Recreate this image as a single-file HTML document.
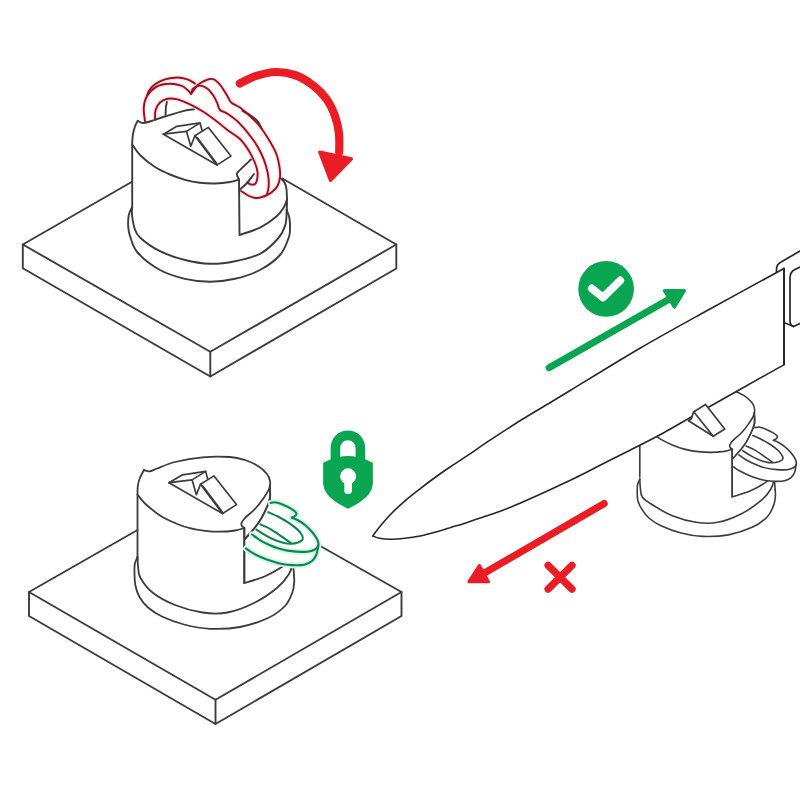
<!DOCTYPE html>
<html><head><meta charset="utf-8"><title>Knife sharpener instructions</title>
<style>html,body{margin:0;padding:0;background:#fff}svg{display:block}</style></head>
<body><svg width="800" height="800" viewBox="0 0 800 800">
<rect width="800" height="800" fill="#ffffff"/>
<path d="M132.0,181.8L22.8,244.5L210.3,351.8L396.3,244.5L282.0,178.3" fill="none" stroke="#3c3c3c" stroke-width="1.9" stroke-linecap="round" stroke-linejoin="round" />
<path d="M22.8,244.5L22.8,268.3L210.3,376.5L396.3,268.5L396.3,244.5" fill="none" stroke="#3c3c3c" stroke-width="1.9" stroke-linecap="round" stroke-linejoin="round" />
<path d="M210.3,351.8L210.3,376.5" fill="none" stroke="#3c3c3c" stroke-width="1.9" stroke-linecap="round" stroke-linejoin="round" />
<path d="M147.2,95.0C147.5,94.2 148.3,92.0 149.2,90.5C150.1,89.0 151.3,87.5 152.5,86.3C153.7,85.1 154.4,84.4 156.5,83.3C158.6,82.2 161.5,80.4 165.0,79.4C168.5,78.4 173.8,77.5 177.5,77.5C181.2,77.5 184.6,78.4 187.5,79.4C190.4,80.4 193.8,82.8 195.0,83.5" fill="none" stroke="#ffe3e6" stroke-width="4.6" stroke-linecap="round"/>
<path d="M197.0,85.6C197.9,85.0 200.3,83.0 202.5,81.9C204.7,80.8 207.9,79.3 210.0,79.0C212.1,78.7 213.1,78.8 215.0,80.0C216.9,81.2 219.2,83.5 221.2,86.2C223.3,89.0 225.8,93.5 227.5,96.2C229.2,99.0 229.2,100.6 231.2,102.5C233.3,104.4 237.1,105.4 240.0,107.5C242.9,109.6 245.6,112.1 248.8,115.0C251.9,117.9 255.6,121.2 258.8,125.0C261.9,128.8 264.6,132.8 267.5,137.5C270.4,142.2 274.0,148.1 276.0,153.0C278.0,157.9 278.8,163.0 279.5,167.0C280.2,171.0 280.3,173.8 280.0,177.0C279.7,180.2 278.8,183.5 277.5,186.0C276.2,188.5 274.1,190.3 272.0,192.0C269.9,193.7 267.5,195.0 265.0,196.0C262.5,197.0 259.7,198.0 257.0,198.0C254.3,198.0 251.7,197.2 249.0,196.0C246.3,194.8 242.3,191.8 241.0,191.0" fill="none" stroke="#ffe3e6" stroke-width="4.6" stroke-linecap="round"/>
<path d="M145.0,121.2C144.8,119.0 143.4,111.7 143.8,107.5C144.1,103.3 144.8,99.7 146.9,96.2C149.0,92.8 152.6,89.0 156.2,86.9C159.9,84.8 164.6,84.0 168.8,83.8C172.9,83.5 178.1,84.6 181.2,85.6C184.4,86.6 185.8,88.6 187.5,90.0C189.2,91.4 190.6,93.1 191.2,93.8" fill="none" stroke="#ffe3e6" stroke-width="4.6" stroke-linecap="round"/>
<path d="M191.2,93.8C191.5,92.9 191.5,90.1 193.0,88.8C194.5,87.4 197.6,85.6 200.0,85.6C202.4,85.6 205.2,87.0 207.5,88.8C209.8,90.5 212.1,93.8 213.8,96.2C215.4,98.8 216.5,101.5 217.5,103.8C218.5,106.0 218.3,108.3 220.0,110.0C221.7,111.7 224.2,111.5 227.5,113.8C230.8,116.0 235.6,119.2 240.0,123.8C244.4,128.3 250.5,136.1 254.0,141.0C257.5,145.9 259.0,148.8 261.0,153.0C263.0,157.2 264.8,161.8 266.0,166.0C267.2,170.2 268.1,174.3 268.5,178.0C268.9,181.7 268.8,185.3 268.5,188.0C268.2,190.7 267.2,193.0 267.0,194.0" fill="none" stroke="#ffe3e6" stroke-width="4.6" stroke-linecap="round"/>
<path d="M155.0,119.4C155.1,117.8 154.8,112.8 155.6,110.0C156.4,107.2 158.0,104.4 160.0,102.5C162.0,100.6 164.6,99.3 167.5,98.8C170.4,98.2 173.8,98.5 177.5,99.4C181.2,100.3 185.8,102.4 190.0,104.4C194.2,106.4 198.3,108.7 202.5,111.2C206.7,113.8 210.8,116.9 215.0,120.0C219.2,123.1 223.3,126.8 227.5,130.0C231.7,133.2 236.4,135.5 240.0,139.0C243.6,142.5 246.5,147.0 249.0,151.0C251.5,155.0 253.6,159.5 255.0,163.0C256.4,166.5 257.2,169.2 257.5,172.0C257.8,174.8 257.4,178.0 257.0,180.0C256.6,182.0 256.0,183.2 255.0,184.0C254.0,184.8 252.2,184.7 251.0,184.5C249.8,184.3 248.5,183.2 248.0,183.0" fill="none" stroke="#ffe3e6" stroke-width="4.6" stroke-linecap="round"/>
<path d="M137.8,120.8C138.7,121.2 140.6,123.2 143.5,123.0C146.4,122.8 151.4,120.9 155.0,119.8C158.6,118.7 160.2,118.0 165.0,116.5C169.8,115.0 179.0,112.0 183.8,110.8C188.5,109.6 192.1,109.6 193.8,109.4" fill="none" stroke="#3c3c3c" stroke-width="1.9" stroke-linecap="round" stroke-linejoin="round" />
<path d="M242.5,111.0C243.8,111.7 247.5,113.3 250.0,115.0C252.5,116.7 255.5,118.7 257.5,121.0C259.5,123.3 261.2,127.7 262.0,129.0" fill="none" stroke="#3c3c3c" stroke-width="1.9" stroke-linecap="round" stroke-linejoin="round" />
<path d="M137.8,120.8C137.2,121.8 135.5,124.8 134.8,127.0C134.0,129.2 133.4,131.7 133.0,134.0C132.6,136.3 132.4,138.7 132.3,141.0C132.2,143.3 132.2,146.8 132.2,148.0L132.2,207" fill="none" stroke="#3c3c3c" stroke-width="1.9" stroke-linecap="round" stroke-linejoin="round" />
<path d="M132.2,144.5C133.5,146.2 136.2,151.2 140.0,155.0C143.8,158.8 150.0,163.8 155.0,167.0C160.0,170.2 165.0,172.4 170.0,174.5C175.0,176.6 180.0,178.4 185.0,179.8C190.0,181.1 195.0,182.1 200.0,182.8C205.0,183.4 210.0,183.6 215.0,183.5C220.0,183.4 226.0,182.7 230.0,182.0C234.0,181.3 237.5,179.9 239.0,179.5" fill="none" stroke="#3c3c3c" stroke-width="1.9" stroke-linecap="round" stroke-linejoin="round" />
<path d="M239.0,179.5C238.7,178.8 237.2,176.2 237.0,175.0C236.8,173.8 235.7,174.6 238.0,172.0C240.3,169.4 248.8,161.6 251.0,159.5" fill="none" stroke="#3c3c3c" stroke-width="1.9" stroke-linecap="round" stroke-linejoin="round" />
<path d="M240.5,189.0C241.6,188.0 244.8,185.5 247.0,183.0C249.2,180.5 252.8,175.5 254.0,174.0" fill="none" stroke="#3c3c3c" stroke-width="1.9" stroke-linecap="round" stroke-linejoin="round" />
<path d="M239,179.5L239.5,235C243.0,233.7 254.2,230.6 260.5,227.4C266.8,224.2 273.1,219.4 277.0,216.0C280.9,212.6 282.3,209.8 284.0,207.0C285.7,204.2 286.5,200.8 287.0,199.5" fill="none" stroke="#3c3c3c" stroke-width="1.9" stroke-linecap="round" stroke-linejoin="round" />
<path d="M281.0,178.5C281.6,179.2 283.6,180.8 284.5,182.5C285.4,184.2 286.0,185.7 286.4,188.5C286.8,191.3 286.9,195.9 287.0,199.5C287.1,203.1 286.8,208.2 286.7,210.0" fill="none" stroke="#3c3c3c" stroke-width="1.9" stroke-linecap="round" stroke-linejoin="round" />
<path d="M132.2,207.0C131.6,208.2 129.6,211.3 128.9,214.5C128.2,217.7 128.0,222.4 128.2,226.0C128.4,229.6 128.4,231.6 130.0,236.0C131.6,240.4 132.5,246.8 137.5,252.5C142.5,258.2 152.1,265.6 160.0,270.0C167.9,274.4 176.7,276.8 185.0,278.8C193.3,280.7 201.7,281.8 210.0,281.8C218.3,281.8 226.7,280.7 235.0,278.8C243.3,276.8 252.5,274.0 260.0,270.0C267.5,266.0 275.2,260.4 280.0,255.0C284.8,249.6 287.1,242.0 288.8,237.5C290.4,233.0 289.9,231.2 290.0,228.0C290.1,224.8 289.9,221.0 289.4,218.0C288.8,215.0 287.1,211.3 286.7,210.0" fill="none" stroke="#3c3c3c" stroke-width="1.9" stroke-linecap="round" stroke-linejoin="round" />
<path d="M132.2,207.0C132.2,208.3 131.6,211.5 132.0,215.0C132.4,218.5 133.2,224.2 134.5,228.0C135.8,231.8 135.8,233.6 140.0,237.5C144.2,241.4 152.5,247.5 160.0,251.2C167.5,255.0 176.7,257.9 185.0,260.0C193.3,262.1 201.7,263.5 210.0,263.8C218.3,264.0 226.7,262.9 235.0,261.2C243.3,259.6 252.8,257.5 260.0,253.8C267.2,250.0 273.8,243.3 278.0,238.5C282.2,233.7 283.9,229.8 285.3,225.0C286.8,220.2 286.5,212.5 286.7,210.0" fill="none" stroke="#3c3c3c" stroke-width="1.9" stroke-linecap="round" stroke-linejoin="round" />
<path d="M163.4,134.2L176.9,126.3L200.0,122.9L202.0,130.3" fill="none" stroke="#3c3c3c" stroke-width="1.7" stroke-linecap="round" stroke-linejoin="round" />
<path d="M163.4,134.2L186.5,131.4L200.0,122.9" fill="none" stroke="#3c3c3c" stroke-width="1.7" stroke-linecap="round" stroke-linejoin="round" />
<path d="M186.5,131.4L190.8,146.2L194.9,135.7" fill="none" stroke="#3c3c3c" stroke-width="1.7" stroke-linecap="round" stroke-linejoin="round" />
<path d="M194.9,135.7L208.4,127.4L230.9,156.1L216.9,165.1L194.9,135.7" fill="none" stroke="#3c3c3c" stroke-width="1.7" stroke-linecap="round" stroke-linejoin="round" />
<path d="M163.4,134.2L216.9,165.1" fill="none" stroke="#3c3c3c" stroke-width="1.7" stroke-linecap="round" stroke-linejoin="round" />
<path d="M197.2,137.6L216.7,163.4" fill="none" stroke="#3c3c3c" stroke-width="1.7" stroke-linecap="round" stroke-linejoin="round" />
<path d="M147.2,95.0C147.5,94.2 148.3,92.0 149.2,90.5C150.1,89.0 151.3,87.5 152.5,86.3C153.7,85.1 154.4,84.4 156.5,83.3C158.6,82.2 161.5,80.4 165.0,79.4C168.5,78.4 173.8,77.5 177.5,77.5C181.2,77.5 184.6,78.4 187.5,79.4C190.4,80.4 193.8,82.8 195.0,83.5" fill="none" stroke="#9a101c" stroke-width="1.9" stroke-linecap="round" stroke-linejoin="round" />
<path d="M197.0,85.6C197.9,85.0 200.3,83.0 202.5,81.9C204.7,80.8 207.9,79.3 210.0,79.0C212.1,78.7 213.1,78.8 215.0,80.0C216.9,81.2 219.2,83.5 221.2,86.2C223.3,89.0 225.8,93.5 227.5,96.2C229.2,99.0 229.2,100.6 231.2,102.5C233.3,104.4 237.1,105.4 240.0,107.5C242.9,109.6 245.6,112.1 248.8,115.0C251.9,117.9 255.6,121.2 258.8,125.0C261.9,128.8 264.6,132.8 267.5,137.5C270.4,142.2 274.0,148.1 276.0,153.0C278.0,157.9 278.8,163.0 279.5,167.0C280.2,171.0 280.3,173.8 280.0,177.0C279.7,180.2 278.8,183.5 277.5,186.0C276.2,188.5 274.1,190.3 272.0,192.0C269.9,193.7 267.5,195.0 265.0,196.0C262.5,197.0 259.7,198.0 257.0,198.0C254.3,198.0 251.7,197.2 249.0,196.0C246.3,194.8 242.3,191.8 241.0,191.0" fill="none" stroke="#9a101c" stroke-width="1.9" stroke-linecap="round" stroke-linejoin="round" />
<path d="M191.2,93.8L197.0,85.6" fill="none" stroke="#9a101c" stroke-width="1.9" stroke-linecap="round" stroke-linejoin="round" />
<path d="M145.0,121.2C144.8,119.0 143.4,111.7 143.8,107.5C144.1,103.3 144.8,99.7 146.9,96.2C149.0,92.8 152.6,89.0 156.2,86.9C159.9,84.8 164.6,84.0 168.8,83.8C172.9,83.5 178.1,84.6 181.2,85.6C184.4,86.6 185.8,88.6 187.5,90.0C189.2,91.4 190.6,93.1 191.2,93.8" fill="none" stroke="#9a101c" stroke-width="1.9" stroke-linecap="round" stroke-linejoin="round" />
<path d="M191.2,93.8C191.5,92.9 191.5,90.1 193.0,88.8C194.5,87.4 197.6,85.6 200.0,85.6C202.4,85.6 205.2,87.0 207.5,88.8C209.8,90.5 212.1,93.8 213.8,96.2C215.4,98.8 216.5,101.5 217.5,103.8C218.5,106.0 218.3,108.3 220.0,110.0C221.7,111.7 224.2,111.5 227.5,113.8C230.8,116.0 235.6,119.2 240.0,123.8C244.4,128.3 250.5,136.1 254.0,141.0C257.5,145.9 259.0,148.8 261.0,153.0C263.0,157.2 264.8,161.8 266.0,166.0C267.2,170.2 268.1,174.3 268.5,178.0C268.9,181.7 268.8,185.3 268.5,188.0C268.2,190.7 267.2,193.0 267.0,194.0" fill="none" stroke="#9a101c" stroke-width="1.9" stroke-linecap="round" stroke-linejoin="round" />
<path d="M155.0,119.4C155.1,117.8 154.8,112.8 155.6,110.0C156.4,107.2 158.0,104.4 160.0,102.5C162.0,100.6 164.6,99.3 167.5,98.8C170.4,98.2 173.8,98.5 177.5,99.4C181.2,100.3 185.8,102.4 190.0,104.4C194.2,106.4 198.3,108.7 202.5,111.2C206.7,113.8 210.8,116.9 215.0,120.0C219.2,123.1 223.3,126.8 227.5,130.0C231.7,133.2 236.4,135.5 240.0,139.0C243.6,142.5 246.5,147.0 249.0,151.0C251.5,155.0 253.6,159.5 255.0,163.0C256.4,166.5 257.2,169.2 257.5,172.0C257.8,174.8 257.4,178.0 257.0,180.0C256.6,182.0 256.0,183.2 255.0,184.0C254.0,184.8 252.2,184.7 251.0,184.5C249.8,184.3 248.5,183.2 248.0,183.0" fill="none" stroke="#9a101c" stroke-width="1.9" stroke-linecap="round" stroke-linejoin="round" />
<path d="M166.9,101.9C166.7,102.9 166.0,105.8 165.8,108.0C165.6,110.2 165.6,113.8 165.6,115.0" fill="none" stroke="#3c3c3c" stroke-width="1.9" stroke-linecap="round" stroke-linejoin="round" />
<path d="M239.8,83.5C242.5,82.2 250.3,77.8 256.2,75.9C262.2,74.0 269.1,72.2 275.5,72.0C281.9,71.8 288.6,72.9 294.8,75.0C300.9,77.1 307.0,80.8 312.2,84.7C317.5,88.7 322.5,93.5 326.2,98.7C330.0,103.9 332.9,110.2 335.0,116.0C337.1,121.8 338.3,127.5 339.0,133.5C339.7,139.5 339.2,148.9 339.2,152.0" fill="none" stroke="#ea1c24" stroke-width="8.2" stroke-linecap="round" stroke-linejoin="round" />
<path d="M319.8,152.2L351.4,158.8L330.5,180.2Z" fill="#ea1c24" stroke="#ea1c24" stroke-width="3.4" stroke-linecap="round" stroke-linejoin="round" />
<path d="M137.5,530.0L29.0,592.0L215.5,699.8L401.5,592.0L318.5,545.0" fill="none" stroke="#3c3c3c" stroke-width="1.9" stroke-linecap="round" stroke-linejoin="round" />
<path d="M29.0,592.0L29.0,616.0L215.5,724.0L401.5,616.0L401.5,592.0" fill="none" stroke="#3c3c3c" stroke-width="1.9" stroke-linecap="round" stroke-linejoin="round" />
<path d="M215.5,699.8L215.5,724.0" fill="none" stroke="#3c3c3c" stroke-width="1.9" stroke-linecap="round" stroke-linejoin="round" />
<path d="M144.0,470.0C144.9,470.2 147.3,471.6 149.5,471.3C151.7,471.1 152.8,470.1 157.0,468.5C161.2,466.9 167.4,463.9 175.0,462.0C182.6,460.1 193.3,458.1 202.5,457.3C211.7,456.5 222.9,456.6 230.0,457.0C237.1,457.4 240.3,458.5 245.0,460.0C249.7,461.5 254.3,463.7 258.0,466.0C261.7,468.3 265.0,471.5 267.0,474.0C269.0,476.5 269.6,478.7 270.0,481.0C270.4,483.3 270.7,485.0 269.5,488.0C268.3,491.0 265.4,495.5 263.0,499.0C260.6,502.5 258.0,505.8 255.0,509.0C252.0,512.2 247.2,515.7 245.0,518.0C242.8,520.3 242.0,521.7 241.5,523.0C241.0,524.3 241.5,525.2 242.0,526.0C242.5,526.8 243.9,527.7 244.3,528.0" fill="none" stroke="#3c3c3c" stroke-width="1.8" stroke-linecap="round" stroke-linejoin="round" />
<path d="M269.8,486.0C269.8,488.0 270.5,494.5 270.0,498.0C269.5,501.5 268.5,503.5 267.0,507.0C265.5,510.5 263.2,515.3 261.2,518.8C259.3,522.2 257.1,524.9 255.1,527.5C253.1,530.1 250.7,532.6 249.0,534.5C247.3,536.4 245.7,538.2 245.0,539.0" fill="none" stroke="#3c3c3c" stroke-width="1.8" stroke-linecap="round" stroke-linejoin="round" />
<path d="M144.0,470.0C143.2,471.5 140.6,476.2 139.5,479.0C138.4,481.8 138.0,484.3 137.7,487.0C137.4,489.7 137.5,493.7 137.5,495.0L137.5,560.0" fill="none" stroke="#3c3c3c" stroke-width="1.8" stroke-linecap="round" stroke-linejoin="round" />
<path d="M137.5,494.5C138.8,496.0 141.2,500.0 145.0,503.5C148.8,507.0 155.0,512.2 160.0,515.5C165.0,518.8 170.0,520.9 175.0,523.0C180.0,525.1 185.0,527.0 190.0,528.2C195.0,529.5 200.0,530.2 205.0,530.8C210.0,531.4 215.0,531.8 220.0,531.7C225.0,531.7 230.9,531.1 235.0,530.5C239.1,529.9 242.8,528.4 244.3,528.0" fill="none" stroke="#3c3c3c" stroke-width="1.8" stroke-linecap="round" stroke-linejoin="round" />
<path d="M244.3,528.0L244.3,583.0" fill="none" stroke="#3c3c3c" stroke-width="1.8" stroke-linecap="round" stroke-linejoin="round" />
<path d="M244.3,583.0C247.8,581.9 258.2,579.2 265.0,576.2C271.8,573.2 280.4,568.0 285.0,565.0C289.6,562.0 291.2,559.2 292.5,558.0" fill="none" stroke="#3c3c3c" stroke-width="1.8" stroke-linecap="round" stroke-linejoin="round" />
<path d="M293.0,562.0L294.0,575.0" fill="none" stroke="#3c3c3c" stroke-width="1.8" stroke-linecap="round" stroke-linejoin="round" />
<path d="M137.5,557.0C137.1,558.2 135.3,561.3 134.8,564.0C134.3,566.7 134.4,569.5 134.5,573.0C134.6,576.5 134.5,581.0 135.3,585.0C136.1,589.0 137.4,593.2 139.5,597.0C141.6,600.8 144.2,604.2 148.0,607.5C151.8,610.8 156.0,613.7 162.0,616.5C168.0,619.3 176.0,622.5 184.0,624.5C192.0,626.5 200.7,628.3 210.0,628.8C219.3,629.2 230.3,628.8 240.0,627.0C249.7,625.2 260.5,621.5 268.0,618.0C275.5,614.5 280.9,610.3 285.0,606.0C289.1,601.7 291.0,596.0 292.5,592.0C294.0,588.0 294.0,584.8 294.2,582.0C294.5,579.2 294.0,576.2 294.0,575.0" fill="none" stroke="#3c3c3c" stroke-width="1.8" stroke-linecap="round" stroke-linejoin="round" />
<path d="M137.5,557.0C137.6,558.8 137.7,564.5 138.2,568.0C138.7,571.5 138.1,573.9 140.5,578.0C142.9,582.1 146.8,588.0 152.5,592.5C158.2,597.0 166.7,601.7 175.0,605.0C183.3,608.3 193.8,611.2 202.5,612.5C211.2,613.8 218.8,614.2 227.5,612.5C236.2,610.8 246.7,606.7 255.0,602.5C263.3,598.3 271.8,592.2 277.5,587.5C283.2,582.8 286.4,578.2 289.0,574.0C291.6,569.8 292.3,564.0 293.0,562.0" fill="none" stroke="#3c3c3c" stroke-width="1.8" stroke-linecap="round" stroke-linejoin="round" />
<path d="M169.0,482.7L182.5,474.8L205.6,471.4L207.6,478.8" fill="none" stroke="#3c3c3c" stroke-width="1.7" stroke-linecap="round" stroke-linejoin="round" />
<path d="M169.0,482.7L192.1,479.9L205.6,471.4" fill="none" stroke="#3c3c3c" stroke-width="1.7" stroke-linecap="round" stroke-linejoin="round" />
<path d="M192.1,479.9L196.4,494.7L200.5,484.2" fill="none" stroke="#3c3c3c" stroke-width="1.7" stroke-linecap="round" stroke-linejoin="round" />
<path d="M200.5,484.2L214.0,475.9L236.5,504.6L222.5,513.6L200.5,484.2" fill="none" stroke="#3c3c3c" stroke-width="1.7" stroke-linecap="round" stroke-linejoin="round" />
<path d="M169.0,482.7L222.5,513.6" fill="none" stroke="#3c3c3c" stroke-width="1.7" stroke-linecap="round" stroke-linejoin="round" />
<path d="M202.8,486.1L222.3,511.9" fill="none" stroke="#3c3c3c" stroke-width="1.7" stroke-linecap="round" stroke-linejoin="round" />
<path d="M270.6,503.0L275.0,502.3L282.5,504.5L291.2,508.8L296.2,512.8L295.5,515.6L292.0,517.7L297.5,520.0L305.0,525.0L312.5,532.5L317.5,540.0L318.3,545.5L318.3,545.5L316.2,555.0L312.0,561.0L305.0,564.4L296.2,565.2L287.5,564.7L278.8,563.2L270.0,560.6L261.2,557.2L252.5,552.9L246.0,548.5L245.0,539.0L249.0,534.5L255.1,527.5L261.2,518.8L266.5,508.0L270.6,503.0Z" fill="#fff" stroke="none" stroke-width="1.9" stroke-linecap="round" stroke-linejoin="round" />
<path d="M269.8,486.0C269.8,488.0 270.5,494.5 270.0,498.0C269.5,501.5 268.5,503.5 267.0,507.0C265.5,510.5 263.2,515.3 261.2,518.8C259.3,522.2 257.1,524.9 255.1,527.5C253.1,530.1 250.7,532.6 249.0,534.5C247.3,536.4 245.7,538.2 245.0,539.0" fill="none" stroke="#3c3c3c" stroke-width="1.9" stroke-linecap="round" stroke-linejoin="round" />
<path d="M244.3,528.0L244.3,583.0" fill="none" stroke="#3c3c3c" stroke-width="1.9" stroke-linecap="round" stroke-linejoin="round" />
<path d="M270.6,503.0C271.3,502.9 273.0,502.1 275.0,502.3C277.0,502.6 279.8,503.4 282.5,504.5C285.2,505.6 289.0,507.4 291.2,508.8C293.5,510.1 295.5,511.6 296.2,512.8C297.0,513.9 296.2,514.8 295.5,515.6C294.8,516.4 292.6,517.4 292.0,517.7" fill="none" stroke="#d4f7e6" stroke-width="6" stroke-linecap="round" stroke-linejoin="round" />
<path d="M292.0,517.7C292.9,518.1 295.3,518.8 297.5,520.0C299.7,521.2 302.5,522.9 305.0,525.0C307.5,527.1 310.4,530.0 312.5,532.5C314.6,535.0 316.5,537.8 317.5,540.0C318.5,542.2 318.7,543.9 318.3,545.5C317.9,547.1 316.8,548.5 315.0,549.5C313.2,550.5 310.6,551.4 307.5,551.8C304.4,552.1 299.6,551.8 296.2,551.6C292.9,551.4 290.4,551.1 287.5,550.6C284.6,550.1 281.7,549.3 278.8,548.4C275.8,547.5 272.9,546.5 270.0,545.2C267.1,543.9 264.2,542.6 261.2,540.8C258.2,539.0 253.5,535.5 252.0,534.5" fill="none" stroke="#d4f7e6" stroke-width="6" stroke-linecap="round" stroke-linejoin="round" />
<path d="M318.3,545.5C318.0,547.1 317.3,552.4 316.2,555.0C315.2,557.6 313.9,559.4 312.0,561.0C310.1,562.6 307.6,563.7 305.0,564.4C302.4,565.1 299.2,565.2 296.2,565.2C293.3,565.2 290.4,565.0 287.5,564.7C284.6,564.4 281.7,563.9 278.8,563.2C275.8,562.5 272.9,561.6 270.0,560.6C267.1,559.6 264.2,558.5 261.2,557.2C258.3,555.9 255.0,554.4 252.5,552.9C250.0,551.4 247.1,549.2 246.0,548.5" fill="none" stroke="#d4f7e6" stroke-width="6" stroke-linecap="round" stroke-linejoin="round" />
<path d="M270.6,503.0C271.3,502.9 273.0,502.1 275.0,502.3C277.0,502.6 279.8,503.4 282.5,504.5C285.2,505.6 289.0,507.4 291.2,508.8C293.5,510.1 295.5,511.6 296.2,512.8C297.0,513.9 296.2,514.8 295.5,515.6C294.8,516.4 292.6,517.4 292.0,517.7" fill="none" stroke="#0d8550" stroke-width="2.1" stroke-linecap="round" stroke-linejoin="round" />
<path d="M292.0,517.7C292.9,518.1 295.3,518.8 297.5,520.0C299.7,521.2 302.5,522.9 305.0,525.0C307.5,527.1 310.4,530.0 312.5,532.5C314.6,535.0 316.5,537.8 317.5,540.0C318.5,542.2 318.7,543.9 318.3,545.5C317.9,547.1 316.8,548.5 315.0,549.5C313.2,550.5 310.6,551.4 307.5,551.8C304.4,552.1 299.6,551.8 296.2,551.6C292.9,551.4 290.4,551.1 287.5,550.6C284.6,550.1 281.7,549.3 278.8,548.4C275.8,547.5 272.9,546.5 270.0,545.2C267.1,543.9 264.2,542.6 261.2,540.8C258.2,539.0 253.5,535.5 252.0,534.5" fill="none" stroke="#0d8550" stroke-width="2.1" stroke-linecap="round" stroke-linejoin="round" />
<path d="M318.3,545.5C318.0,547.1 317.3,552.4 316.2,555.0C315.2,557.6 313.9,559.4 312.0,561.0C310.1,562.6 307.6,563.7 305.0,564.4C302.4,565.1 299.2,565.2 296.2,565.2C293.3,565.2 290.4,565.0 287.5,564.7C284.6,564.4 281.7,563.9 278.8,563.2C275.8,562.5 272.9,561.6 270.0,560.6C267.1,559.6 264.2,558.5 261.2,557.2C258.3,555.9 255.0,554.4 252.5,552.9C250.0,551.4 247.1,549.2 246.0,548.5" fill="none" stroke="#0d8550" stroke-width="2.1" stroke-linecap="round" stroke-linejoin="round" />
<path d="M268.2,512.2C270.0,513.0 275.2,515.2 278.8,517.0C282.2,518.8 286.0,520.9 289.2,523.1C292.5,525.3 295.8,527.9 298.0,530.1C300.2,532.3 301.7,534.6 302.4,536.2C303.1,537.9 303.1,538.7 302.4,539.8C301.7,540.8 299.9,541.7 298.0,542.4C296.1,543.1 293.5,543.6 291.0,543.7C288.5,543.8 285.9,543.5 283.1,542.8C280.3,542.1 277.3,541.0 274.4,539.8C271.5,538.5 268.6,537.1 265.6,535.4C262.6,533.7 257.9,530.7 256.4,529.7" fill="none" stroke="#0d8550" stroke-width="2.1" stroke-linecap="round" stroke-linejoin="round" />
<path d="M260.4,524.4C262.0,525.1 266.9,527.1 270.0,528.8C273.1,530.5 275.8,532.5 278.8,534.5C281.7,536.5 285.5,539.1 287.5,540.6C289.5,542.1 290.4,542.8 291.0,543.2" fill="none" stroke="#0d8550" stroke-width="2.1" stroke-linecap="round" stroke-linejoin="round" />
<path d="M330.6,462V447.8a17.3,17.3 0 0 1 34.6,0V462h-9.6V448a7.7,7.7 0 0 0 -15.4,0V462Z" fill="#09a551"/>
<path d="M323.7,463Q336,456.5 348,456.5Q360,456.5 372.3,463V484Q372.3,497 348,508.3Q323.7,497 323.7,484Z" fill="#09a551" stroke="#09a551" stroke-width="1" stroke-linejoin="round"/>
<circle cx="348.1" cy="476.3" r="8" fill="#fff"/>
<rect x="344.3" y="478" width="7.6" height="16" rx="3.5" fill="#fff"/>
<path d="M645.5,399.1C646.3,399.2 648.3,400.4 650.2,400.2C652.1,400.0 653.0,399.1 656.7,397.8C660.4,396.4 665.7,393.7 672.3,392.1C678.8,390.5 688.1,388.8 696.1,388.1C704.0,387.3 713.7,387.4 719.8,387.8C726.0,388.2 728.8,389.1 732.8,390.4C736.9,391.7 740.9,393.6 744.1,395.6C747.2,397.6 750.1,400.3 751.9,402.5C753.6,404.7 754.1,406.5 754.5,408.6C754.8,410.6 755.0,412.0 754.0,414.6C753.0,417.2 750.5,421.1 748.4,424.1C746.3,427.2 744.1,430.0 741.5,432.8C738.9,435.5 734.8,438.6 732.8,440.6C730.9,442.6 730.2,443.7 729.8,444.9C729.4,446.0 729.8,446.8 730.2,447.5C730.6,448.2 731.9,448.9 732.2,449.2" fill="none" stroke="#3c3c3c" stroke-width="1.6" stroke-linecap="round" stroke-linejoin="round" />
<path d="M754.3,412.9C754.3,414.6 754.9,420.2 754.5,423.3C754.0,426.3 753.1,428.1 751.9,431.1C750.6,434.0 748.6,438.3 746.9,441.2C745.2,444.2 743.3,446.5 741.6,448.8C739.8,451.1 737.7,453.2 736.3,454.8C734.8,456.5 733.4,458.1 732.8,458.7" fill="none" stroke="#3c3c3c" stroke-width="1.6" stroke-linecap="round" stroke-linejoin="round" />
<path d="M645.5,399.1C644.8,400.3 642.5,404.4 641.6,406.8C640.7,409.3 640.3,411.4 640.0,413.8C639.7,416.1 639.9,419.5 639.8,420.7L639.8,476.9" fill="none" stroke="#3c3c3c" stroke-width="1.6" stroke-linecap="round" stroke-linejoin="round" />
<path d="M639.8,420.2C640.9,421.5 643.1,425.0 646.3,428.0C649.6,431.1 655.0,435.6 659.3,438.4C663.6,441.2 667.9,443.1 672.3,444.9C676.6,446.7 680.9,448.3 685.2,449.4C689.6,450.6 693.9,451.1 698.2,451.6C702.5,452.1 706.9,452.5 711.2,452.4C715.5,452.4 720.7,451.9 724.2,451.4C727.7,450.8 730.9,449.6 732.2,449.2" fill="none" stroke="#3c3c3c" stroke-width="1.6" stroke-linecap="round" stroke-linejoin="round" />
<path d="M732.2,449.2L732.2,496.8" fill="none" stroke="#3c3c3c" stroke-width="1.6" stroke-linecap="round" stroke-linejoin="round" />
<path d="M732.2,496.8C735.2,495.8 744.3,493.6 750.1,491.0C756.0,488.4 763.5,483.9 767.4,481.2C771.4,478.6 772.8,476.2 773.9,475.2" fill="none" stroke="#3c3c3c" stroke-width="1.6" stroke-linecap="round" stroke-linejoin="round" />
<path d="M774.3,478.6L775.2,489.9" fill="none" stroke="#3c3c3c" stroke-width="1.6" stroke-linecap="round" stroke-linejoin="round" />
<path d="M639.8,479.1C639.4,480.1 637.9,482.8 637.5,485.1C637.1,487.4 637.2,490.3 637.2,492.9C637.3,495.5 637.2,498.0 637.9,500.7C638.7,503.4 639.7,506.0 641.6,508.9C643.4,511.8 645.7,515.2 648.9,518.0C652.2,520.8 655.8,523.3 661.0,525.8C666.2,528.2 673.1,530.9 680.1,532.7C687.0,534.5 694.5,536.0 702.5,536.4C710.6,536.7 720.1,536.4 728.5,534.9C736.9,533.3 746.2,530.1 752.7,527.1C759.2,524.0 763.9,520.4 767.4,516.7C771.0,512.9 772.6,508.0 773.9,504.6C775.2,501.1 775.2,498.4 775.4,495.9C775.6,493.5 775.2,490.9 775.2,489.9" fill="none" stroke="#3c3c3c" stroke-width="1.6" stroke-linecap="round" stroke-linejoin="round" />
<path d="M639.8,479.1C639.9,480.6 640.0,485.5 640.4,488.6C640.9,491.6 640.4,494.5 642.4,497.2C644.5,500.0 647.8,501.9 652.8,505.0C657.8,508.1 665.1,512.9 672.3,515.8C679.5,518.7 688.5,521.2 696.1,522.3C703.6,523.4 710.1,523.8 717.7,522.3C725.3,520.9 734.3,517.3 741.5,513.7C748.7,510.1 756.0,504.8 760.9,500.7C765.8,496.6 768.7,492.7 770.9,489.0C773.1,485.3 773.8,480.4 774.3,478.6" fill="none" stroke="#3c3c3c" stroke-width="1.6" stroke-linecap="round" stroke-linejoin="round" />
<path d="M755.0,427.6L758.8,427.0L765.3,428.9L772.8,432.6L777.2,436.0L776.5,438.5L773.5,440.3L778.2,442.3L784.7,446.6L791.2,453.1L795.5,459.6L796.2,464.4L796.2,464.4L794.5,472.6L790.8,477.8L784.7,480.7L777.2,481.4L769.6,481.0L762.0,479.7L754.5,477.4L746.9,474.5L739.3,470.8L733.7,467.0L732.8,458.7L736.3,454.8L741.6,448.8L746.9,441.2L751.4,431.9L755.0,427.6Z" fill="#fff" stroke="none" stroke-width="1.9" stroke-linecap="round" stroke-linejoin="round" />
<path d="M754.3,412.9C754.3,414.6 754.9,420.2 754.5,423.3C754.0,426.3 753.1,428.1 751.9,431.1C750.6,434.0 748.6,438.3 746.9,441.2C745.2,444.2 743.3,446.5 741.6,448.8C739.8,451.1 737.7,453.2 736.3,454.8C734.8,456.5 733.4,458.1 732.8,458.7" fill="none" stroke="#3c3c3c" stroke-width="1.6" stroke-linecap="round" stroke-linejoin="round" />
<path d="M732.2,449.2L732.2,496.8" fill="none" stroke="#3c3c3c" stroke-width="1.6" stroke-linecap="round" stroke-linejoin="round" />
<path d="M755.0,427.6C755.6,427.5 757.1,426.8 758.8,427.0C760.5,427.2 762.9,428.0 765.3,428.9C767.6,429.8 770.8,431.4 772.8,432.6C774.8,433.8 776.5,435.0 777.2,436.0C777.8,437.0 777.1,437.8 776.5,438.5C775.9,439.2 774.0,440.0 773.5,440.3" fill="none" stroke="#3c3c3c" stroke-width="1.6" stroke-linecap="round" stroke-linejoin="round" />
<path d="M773.5,440.3C774.3,440.6 776.4,441.2 778.2,442.3C780.1,443.4 782.6,444.8 784.7,446.6C786.9,448.4 789.4,450.9 791.2,453.1C793.0,455.3 794.7,457.7 795.5,459.6C796.4,461.5 796.6,463.0 796.2,464.4C795.9,465.7 794.9,466.9 793.4,467.8C791.8,468.7 789.6,469.5 786.9,469.8C784.2,470.1 780.0,469.8 777.2,469.6C774.3,469.5 772.1,469.2 769.6,468.8C767.1,468.3 764.5,467.6 762.0,466.9C759.5,466.1 757.0,465.2 754.5,464.1C751.9,463.0 749.5,461.8 746.9,460.3C744.3,458.7 740.2,455.8 738.9,454.8" fill="none" stroke="#3c3c3c" stroke-width="1.6" stroke-linecap="round" stroke-linejoin="round" />
<path d="M796.2,464.4C795.9,465.7 795.4,470.3 794.5,472.6C793.5,474.8 792.4,476.4 790.8,477.8C789.2,479.1 787.0,480.1 784.7,480.7C782.5,481.3 779.7,481.4 777.2,481.4C774.6,481.4 772.1,481.3 769.6,481.0C767.1,480.7 764.5,480.3 762.0,479.7C759.5,479.1 757.0,478.3 754.5,477.4C751.9,476.6 749.4,475.6 746.9,474.5C744.4,473.4 741.5,472.0 739.3,470.8C737.1,469.5 734.6,467.6 733.7,467.0" fill="none" stroke="#3c3c3c" stroke-width="1.6" stroke-linecap="round" stroke-linejoin="round" />
<path d="M752.9,435.6C754.4,436.2 759.0,438.1 762.0,439.7C765.0,441.3 768.3,443.1 771.1,445.0C773.9,446.9 776.8,449.1 778.7,451.0C780.6,452.9 781.8,455.0 782.5,456.4C783.1,457.7 783.1,458.5 782.5,459.4C781.8,460.3 780.3,461.1 778.7,461.7C777.0,462.2 774.8,462.7 772.6,462.8C770.5,462.9 768.2,462.6 765.8,462.0C763.4,461.5 760.8,460.5 758.3,459.4C755.7,458.3 753.2,457.1 750.6,455.6C748.0,454.2 744.0,451.5 742.7,450.7" fill="none" stroke="#3c3c3c" stroke-width="1.6" stroke-linecap="round" stroke-linejoin="round" />
<path d="M746.1,446.1C747.5,446.7 751.8,448.5 754.5,449.9C757.1,451.4 759.5,453.1 762.0,454.8C764.5,456.5 767.8,458.9 769.6,460.1C771.4,461.4 772.1,462.0 772.6,462.4" fill="none" stroke="#3c3c3c" stroke-width="1.6" stroke-linecap="round" stroke-linejoin="round" />
<path d="M372.8,536.0C373.9,534.5 376.6,530.5 379.5,527.0C382.4,523.5 385.8,519.4 390.0,515.0C394.2,510.6 400.0,505.1 405.0,500.8C410.0,496.4 415.0,492.6 420.0,488.8C425.0,484.9 430.0,481.1 435.0,477.5C440.0,473.9 445.0,470.4 450.0,467.0C455.0,463.6 458.3,461.7 465.0,457.2C471.7,452.8 480.8,446.3 490.0,440.2C499.2,434.2 510.0,427.0 520.0,420.8C530.0,414.5 541.5,407.9 550.0,402.8C558.5,397.6 556.0,399.1 571.0,390.0C586.0,380.9 616.8,361.7 640.0,348.2C663.2,334.7 686.0,322.3 710.0,309.0C734.0,295.7 771.7,275.2 784.0,268.5L784,364.5L784.0,364.5L775.3,369.6L700.0,412.0L660.0,434.8L630.0,450.2L600.0,465.2L580.0,475.5L550.0,489.8L520.0,503.2L503.5,510.0L480.0,518.0L465.0,523.2L450.0,527.8L435.0,532.2L420.0,536.0L405.0,538.2L390.0,539.3L379.5,538.2L372.8,536.0Z" fill="#fff" stroke="none" stroke-width="1.9" stroke-linecap="round" stroke-linejoin="round" />
<path d="M372.8,536.0C373.9,534.5 376.6,530.5 379.5,527.0C382.4,523.5 385.8,519.4 390.0,515.0C394.2,510.6 400.0,505.1 405.0,500.8C410.0,496.4 415.0,492.6 420.0,488.8C425.0,484.9 430.0,481.1 435.0,477.5C440.0,473.9 445.0,470.4 450.0,467.0C455.0,463.6 458.3,461.7 465.0,457.2C471.7,452.8 480.8,446.3 490.0,440.2C499.2,434.2 510.0,427.0 520.0,420.8C530.0,414.5 541.5,407.9 550.0,402.8C558.5,397.6 556.0,399.1 571.0,390.0C586.0,380.9 616.8,361.7 640.0,348.2C663.2,334.7 686.0,322.3 710.0,309.0C734.0,295.7 771.7,275.2 784.0,268.5" fill="none" stroke="#262626" stroke-width="1.6" stroke-linecap="round" stroke-linejoin="round" />
<path d="M372.8,536.0C373.9,536.4 376.6,537.7 379.5,538.2C382.4,538.8 385.8,539.3 390.0,539.3C394.2,539.3 400.0,538.8 405.0,538.2C410.0,537.7 415.0,537.0 420.0,536.0C425.0,535.0 430.0,533.6 435.0,532.2C440.0,530.9 445.0,529.2 450.0,527.8C455.0,526.2 460.0,524.9 465.0,523.2C470.0,521.6 473.6,520.2 480.0,518.0C486.4,515.8 496.8,512.5 503.5,510.0C510.2,507.5 512.2,506.6 520.0,503.2C527.8,499.9 540.0,494.4 550.0,489.8C560.0,485.1 571.7,479.6 580.0,475.5C588.3,471.4 591.7,469.5 600.0,465.2C608.3,461.0 620.0,455.3 630.0,450.2C640.0,445.2 648.3,441.2 660.0,434.8C671.7,428.4 680.8,422.9 700.0,412.0C719.2,401.1 761.3,377.5 775.3,369.6C789.3,361.7 782.5,365.4 784.0,364.5" fill="none" stroke="#262626" stroke-width="1.6" stroke-linecap="round" stroke-linejoin="round" />
<path d="M784.0,268.5L784.0,364.5" fill="none" stroke="#262626" stroke-width="2.0" stroke-linecap="round" stroke-linejoin="round" />
<path d="M688.5,420.7L691.5,418.5L693.5,412.0L705.5,404.5L724.8,429.0L713.2,436.2Z" fill="#fff" stroke="#3c3c3c" stroke-width="1.7" stroke-linecap="round" stroke-linejoin="round" />
<path d="M694.5,412.8L713.2,436.2" fill="none" stroke="#3c3c3c" stroke-width="1.7" stroke-linecap="round" stroke-linejoin="round" />
<path d="M776.5,272V269.5Q776.5,264 781.5,261.8L800,251" fill="none" stroke="#262626" stroke-width="1.7" stroke-linecap="round" stroke-linejoin="round" />
<path d="M784,322.5L793.5,326.5L800,323.5" fill="none" stroke="#262626" stroke-width="1.7" stroke-linecap="round" stroke-linejoin="round" />
<path d="M800,267L794.5,269.8Q790,272.3 790,278V321Q790,325.2 793.5,326.5" fill="none" stroke="#262626" stroke-width="1.7" stroke-linecap="round" stroke-linejoin="round" />
<circle cx="606.1" cy="288.9" r="27.9" fill="#09a551"/>
<path d="M591.8,288.4L603.0,297.6L620.2,280.4" fill="none" stroke="#fff" stroke-width="7.8" stroke-linecap="round" stroke-linejoin="round" />
<path d="M549.1,367.8L669.5,299.0" fill="none" stroke="#09a551" stroke-width="7" stroke-linecap="round" stroke-linejoin="round" />
<path d="M684.3,290.6L664.6,290.6L674.3,307.0Z" fill="#09a551" stroke="#09a551" stroke-width="3.4" stroke-linecap="round" stroke-linejoin="round" />
<path d="M604.1,503.6L483.8,573.4" fill="none" stroke="#ea1c24" stroke-width="7.2" stroke-linecap="round" stroke-linejoin="round" />
<path d="M469.0,581.7L479.4,565.6L488.4,581.7Z" fill="#ea1c24" stroke="#ea1c24" stroke-width="3.2" stroke-linecap="round" stroke-linejoin="round" />
<path d="M548.1,565.3L572.0,589.2" fill="none" stroke="#ea1c24" stroke-width="7.3" stroke-linecap="round" stroke-linejoin="round" />
<path d="M572.0,565.3L548.1,589.2" fill="none" stroke="#ea1c24" stroke-width="7.3" stroke-linecap="round" stroke-linejoin="round" />
</svg></body></html>
